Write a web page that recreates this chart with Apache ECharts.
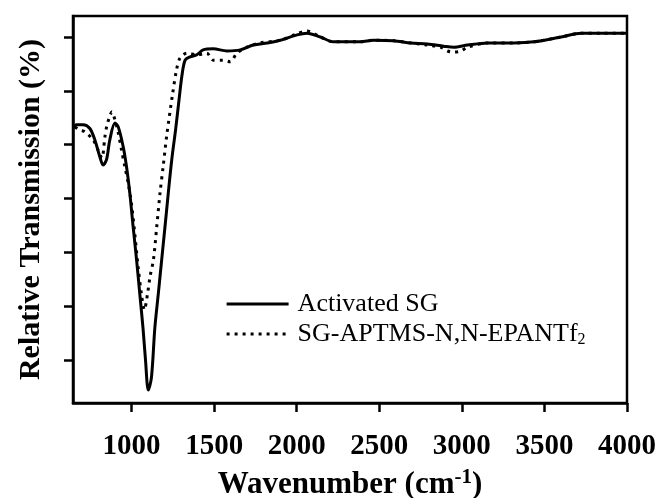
<!DOCTYPE html>
<html>
<head>
<meta charset="utf-8">
<script src="https://cdn.jsdelivr.net/npm/echarts@6/dist/echarts.min.js"></script>
<style>html,body{margin:0;padding:0;background:#fff}#c{width:660px;height:498px}</style>
</head>
<body>
<div id="c"></div>
<script>
var seriesNames = ['Activated SG', 'SG-APTMS-N,N-EPANTf2'];
var xTicks = [1000, 1500, 2000, 2500, 3000, 3500, 4000];
var yTicks = [0, 10, 20, 30, 40, 50, 60];

var activatedWN = [645, 666, 706, 747, 777, 807, 827, 848, 868, 899, 919, 949, 970, 990, 1008, 1030, 1050, 1069, 1084, 1101, 1120, 1141, 1162, 1182, 1202, 1222, 1243, 1266, 1287, 1305, 1324, 1354, 1395, 1433, 1494, 1577, 1658, 1737, 1822, 1901, 2002, 2063, 2143, 2222, 2386, 2465, 2587, 2690, 2791, 2890, 2951, 3034, 3156, 3316, 3437, 3601, 3723, 3844, 4000];
var activatedT = [43.1, 43.7, 43.7, 43.0, 40.9, 37.8, 36.2, 37.2, 40.9, 44.0, 43.3, 39.6, 35.7, 30.7, 25.1, 18.6, 12.1, 5.9, 0.0, -5.6, -3.3, 6.1, 12.4, 18.6, 24.7, 31.0, 37.2, 42.7, 48.3, 52.9, 55.7, 56.3, 56.7, 57.6, 57.8, 57.4, 57.6, 58.5, 58.9, 59.4, 60.4, 60.7, 60.0, 59.1, 59.1, 59.4, 59.3, 58.9, 58.7, 58.3, 58.1, 58.5, 58.9, 58.9, 59.1, 60.0, 60.7, 60.7, 60.7];

var modifiedWN = [656, 686, 716, 767, 797, 820, 838, 850, 868, 880, 899, 919, 939, 959, 979, 1000, 1020, 1040, 1060, 1077, 1097, 1111, 1132, 1152, 1172, 1192, 1213, 1249, 1272, 1293, 1334, 1395, 1455, 1494, 1554, 1597, 1638, 1698, 1779, 1901, 2002, 2063, 2143, 2222, 2386, 2465, 2587, 2690, 2791, 2872, 2913, 2951, 2994, 3034, 3156, 3316, 3437, 3601, 3723, 3844, 4000];
var modifiedT = [43.3, 42.7, 42.4, 40.9, 39.0, 37.5, 41.4, 43.5, 45.3, 46.1, 44.6, 42.2, 39.0, 35.9, 32.9, 28.8, 23.2, 17.1, 12.1, 9.3, 12.4, 15.4, 18.6, 24.7, 31.0, 36.2, 41.8, 49.6, 53.9, 56.1, 57.0, 56.7, 57.0, 55.7, 55.7, 55.4, 57.0, 58.1, 58.9, 59.4, 60.6, 61.1, 60.0, 59.1, 59.1, 59.4, 59.3, 58.9, 58.5, 58.1, 57.4, 57.2, 57.4, 58.1, 58.9, 58.9, 59.1, 60.0, 60.7, 60.7, 60.7];

function zip(a, b) { return a.map(function (v, i) { return [v, b[i]]; }); }

var FONT = "'Liberation Serif', 'Times New Roman', serif";
var chart = echarts.init(document.getElementById('c'), null, { renderer: 'canvas' });
chart.setOption({
  backgroundColor: '#fff',
  animation: false,
  grid: { left: 73, right: 33, top: 16, bottom: 95, show: true, borderColor: '#000', borderWidth: 2.5,
    containLabel: false, outerBoundsMode: 'none' },
  legend: {
    orient: 'vertical',
    left: 220, top: 285,
    itemWidth: 62, itemHeight: 14, itemGap: 2,
    itemStyle: { opacity: 0 },
    data: [
      { name: seriesNames[0], lineStyle: { color: '#000', width: 3.2, type: 'solid' } },
      { name: seriesNames[1], lineStyle: { color: '#000', width: 3, type: [3, 5] } }
    ],
    formatter: function (n) { return n === seriesNames[1] ? 'SG-APTMS-N,N-EPANTf{sub|2}' : n; },
    textStyle: {
      fontFamily: FONT, fontSize: 26, color: '#000', lineHeight: 28, padding: [0, 0, 0, 4],
      rich: { sub: { fontFamily: FONT, fontSize: 16, color: '#000', verticalAlign: 'bottom', padding: [12, 0, 0, 0] } }
    }
  },
  xAxis: {
    type: 'value', min: 645, max: 4000,
    name: 'Wavenumber (cm{sup|-1})', nameLocation: 'middle', nameGap: 64,
    nameTextStyle: { fontFamily: FONT, fontSize: 31, fontWeight: 'bold', color: '#000',
      rich: { sup: { fontFamily: FONT, fontSize: 21, fontWeight: 'bold', color: '#000', verticalAlign: 'top', padding: [0, 0, 14, 0] } } },
    axisLine: { show: true, onZero: false, lineStyle: { color: '#000', width: 2.5 } },
    axisTick: { show: true, length: 9, customValues: xTicks, lineStyle: { color: '#000', width: 2.5 } },
    axisLabel: { customValues: xTicks, margin: 29, fontFamily: FONT, fontSize: 29, fontWeight: 'bold', color: '#000',
      formatter: function (v) { return String(v); } },
    splitLine: { show: false }
  },
  yAxis: {
    type: 'value', min: -8, max: 63.9,
    name: 'Relative Transmission (%)', nameLocation: 'middle', nameGap: 27, nameRotate: 90,
    nameTextStyle: { fontFamily: FONT, fontSize: 30, fontWeight: 'bold', color: '#000' },
    axisLine: { show: true, onZero: false, lineStyle: { color: '#000', width: 2.5 } },
    axisTick: { show: true, length: 9, customValues: yTicks, lineStyle: { color: '#000', width: 2.5 } },
    axisLabel: { show: false, customValues: yTicks },
    splitLine: { show: false }
  },
  series: [
    { name: seriesNames[0], type: 'line', data: zip(activatedWN, activatedT), showSymbol: false, symbol: 'none', smooth: 0.3,
      lineStyle: { color: '#000', width: 3 }, itemStyle: { color: '#000' } },
    { name: seriesNames[1], type: 'line', data: zip(modifiedWN, modifiedT), showSymbol: false, symbol: 'none', smooth: 0.3,
      lineStyle: { color: '#000', width: 3, type: [3, 5] }, itemStyle: { color: '#000' } }
  ]
});
</script>
</body>
</html>
